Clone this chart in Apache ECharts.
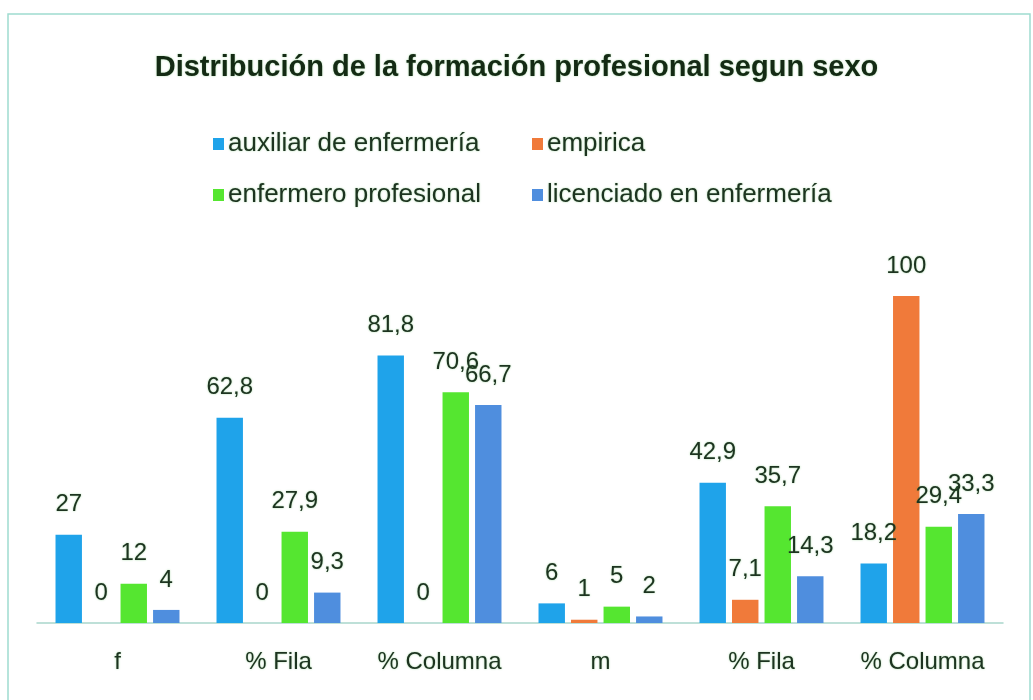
<!DOCTYPE html>
<html>
<head>
<meta charset="utf-8">
<script src="https://cdn.jsdelivr.net/npm/echarts@6/dist/echarts.min.js"></script>
<style>
html,body{margin:0;padding:0;background:#fff;}
#chart{width:1033px;height:700px;}
</style>
</head>
<body>
<div id="chart"></div>
<script>
const categories = ['f', '% Fila', '% Columna', 'm', '% Fila', '% Columna'];
const seriesNames = ['auxiliar de enfermería', 'empirica', 'enfermero profesional', 'licenciado en enfermería'];
const auxiliar = [27, 62.8, 81.8, 6, 42.9, 18.2];
const empirica = [0, 0, 0, 1, 7.1, 100];
const enfermero = [12, 27.9, 70.6, 5, 35.7, 29.4];
const licenciado = [4, 9.3, 66.7, 2, 14.3, 33.3];
const colors = ['#1FA3EA', '#F07A3A', '#55E630', '#4F8EDE'];
const values = [auxiliar, empirica, enfermero, licenciado];

const FONT = '"Liberation Sans", Arial, sans-serif';
const TXT = '#1d3320';
const GLOW = {textShadowColor: 'rgba(60,170,60,0.45)', textShadowBlur: 2};

const legendPos = [[213, 131], [532, 131], [213, 182], [532, 182]];

const chart = echarts.init(document.getElementById('chart'));
chart.setOption({
  backgroundColor: '#ffffff',
  animation: false,
  color: colors,
  title: {
    text: 'Distribución de la formación profesional segun sexo',
    left: 'center', top: 48,
    textStyle: Object.assign({fontFamily: FONT, fontSize: 29, fontWeight: 'bold', color: '#142a14'}, GLOW)
  },
  legend: seriesNames.map((n, i) => ({
    data: [n], left: legendPos[i][0], top: legendPos[i][1], itemWidth: 11, itemHeight: 12, itemGap: 0,
    icon: 'rect', padding: 0,
    textStyle: Object.assign({fontFamily: FONT, fontSize: 26, color: TXT, padding: [0, 0, 0, -1]}, GLOW)
  })),
  graphic: [{
    type: 'rect', shape: {x: 8, y: 14, width: 1022, height: 700},
    style: {fill: 'none', stroke: '#9fdcd0', lineWidth: 1.5}, silent: true
  }],
  grid: {left: 37, right: 30, top: 296, bottom: 77},
  xAxis: {
    type: 'category', data: categories,
    axisLine: {lineStyle: {color: '#a9d6cc', width: 1.5}},
    axisTick: {show: false},
    axisLabel: Object.assign({interval: 0, fontFamily: FONT, fontSize: 24, color: TXT, margin: 27}, GLOW)
  },
  yAxis: {type: 'value', min: 0, max: 100, show: false, splitLine: {show: false}},
  series: values.map((v, i) => ({
    name: seriesNames[i], type: 'bar', data: v,
    barGap: '23%', barCategoryGap: '23%',
    itemStyle: {color: colors[i]},
    label: Object.assign({show: true, position: 'top', distance: 18, fontFamily: FONT, fontSize: 24, color: TXT,
      formatter: p => String(p.value).replace('.', ',')}, GLOW)
  }))
});
</script>
</body>
</html>
